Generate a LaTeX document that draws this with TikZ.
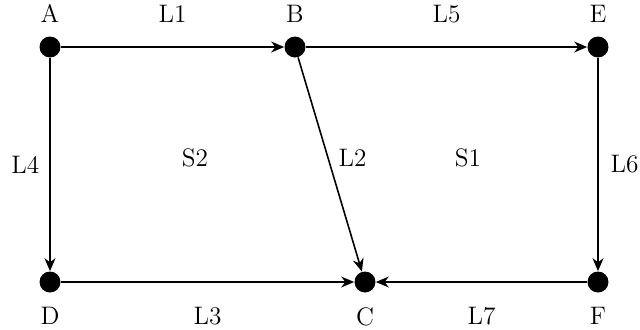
\documentclass[tikz,border=0pt]{standalone}
\usepackage{tikz}
\usetikzlibrary{arrows.meta, positioning}

\begin{document}
\begin{tikzpicture}[
        x=0.02cm, y=-0.02cm,
        dot/.style = {circle, fill=black, minimum size=0.42cm, inner sep=0pt},
        lbl/.style = {font=\Large},
        arrow/.style = {-{Stealth[length=0.26cm, width=0.22cm]}, line width=0.9pt}
    ]
        \useasboundingbox (0,0) rectangle (640,329);

        % Vertices
        \node [dot] (A) at (50,47) {};
        \node [dot] (B) at (295,47) {};
        \node [dot] (E) at (598,47) {};
        \node [dot] (D) at (50,282) {};
        \node [dot] (C) at (365,282) {};
        \node [dot] (F) at (598,282) {};

        % Vertex names
        \node [lbl, above=0.14cm of A] (nA) {A};
        \node [lbl, above=0.14cm of B] (nB) {B};
        \node [lbl, above=0.14cm of E] (nE) {E};
        \node [lbl, below=0.17cm of D] (nD) {D};
        \node [lbl, below=0.17cm of C] (nC) {C};
        \node [lbl, below=0.17cm of F] (nF) {F};

        % Regions
        \node [lbl] (S2) at (195,158) {S2};
        \node [lbl] (S1) at (468,158) {S1};

        % Links
        \draw [arrow] (A) -- node [lbl, above=0.35cm] (L1) {L1} (B);
        \draw [arrow] (B) -- node [lbl, above=0.35cm] (L5) {L5} (E);
        \draw [arrow] (A) -- node [lbl, left=0.08cm] (L4) {L4} (D);
        \draw [arrow] (B) -- node [lbl, pos=0.47, right=0.08cm] (L2) {L2} (C);
        \draw [arrow] (E) -- node [lbl, right=0.12cm] (L6) {L6} (F);
        \draw [arrow] (D) -- node [lbl, below=0.37cm] (L3) {L3} (C);
        \draw [arrow] (F) -- node [lbl, below=0.37cm] (L7) {L7} (C);

    \end{tikzpicture}
\end{document}
